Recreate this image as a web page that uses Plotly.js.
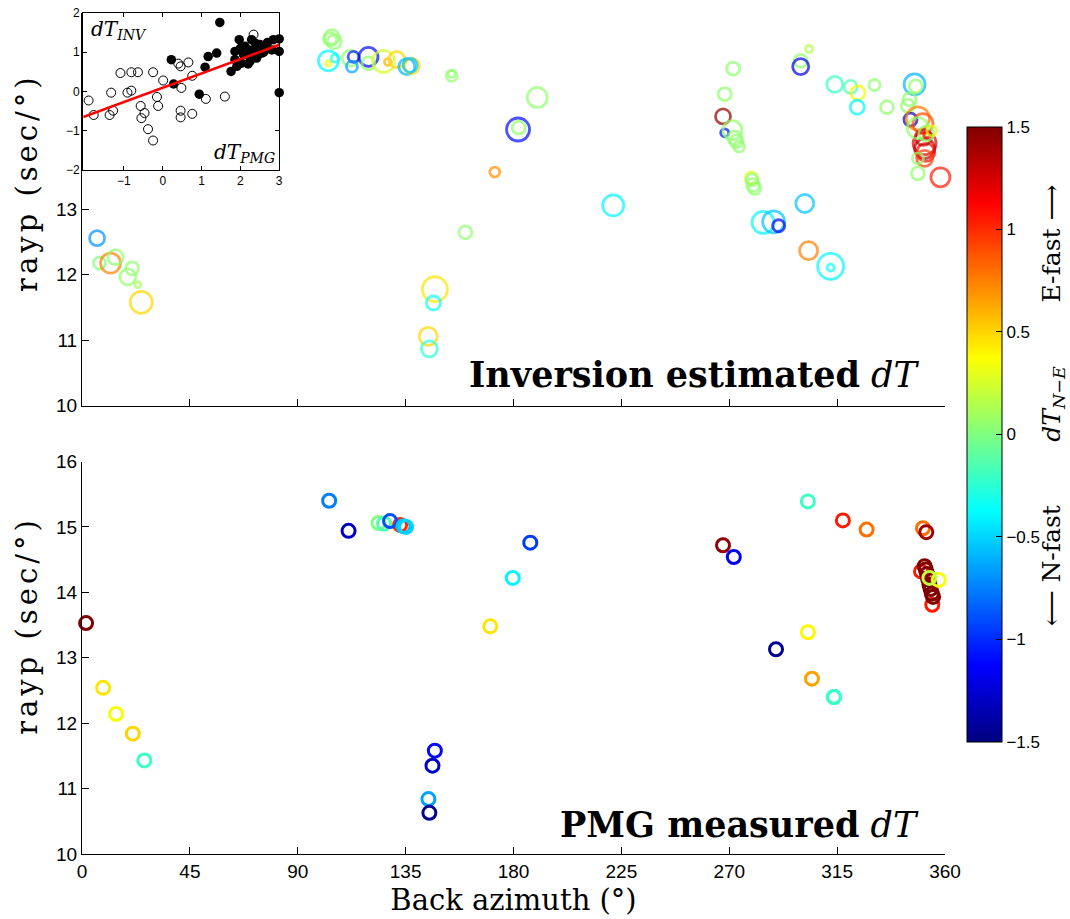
<!DOCTYPE html>
<html>
<head>
<meta charset="utf-8">
<script src="https://cdn.plot.ly/plotly-3.0.1.min.js"></script>
<style>
html,body{margin:0;padding:0;background:#fff;}
#chart{width:1070px;height:919px;}
#chart .annotation[data-index="5"] text, #chart .annotation[data-index="6"] text{letter-spacing:4px;}
</style>
</head>
<body>
<div id="chart"></div>
<script>
// ---------- Top panel: inversion estimated dT ----------
const invBaz  = [6.3,7.3,11.9,14.0,20.9,19.1,23.3,24.7,
  104.2,105.2,103.5,102.8,102.8,105.6,111.9,113.3,112.6,119.5,119.5,125.8,127.6,131.3,135.5,137.6,136.9,
  154.2,154.2,189.9,181.9,182.2,172.2,221.6,159.9,147.2,146.6,144.4,144.9,
  271.6,268.1,267.4,268.1,271.3,272.3,273.0,274.1,279.2,279.5,279.9,280.6,284.1,288.5,290.6,301.5,303.1,312.3,312.3,
  303.3,299.8,299.8,314.0,320.6,323.7,323.4,330.6,335.8,347.3,347.8,345.2,344.5,345.6,
  348.7,350.8,351.5,351.5,352.0,351.5,351.0,348.7,352.2,352.4,348.7,348.7,358.1,354.5];
const invRayp = [12.56,12.18,12.18,12.27,12.10,11.97,11.85,11.58,
  15.63,15.56,15.60,15.27,15.23,15.31,15.31,15.33,15.18,15.33,15.23,15.26,15.25,15.29,15.18,15.19,15.20,
  15.04,15.07,14.71,14.22,14.25,13.57,13.06,12.65,11.78,11.57,11.06,10.87,
  15.15,14.76,14.42,14.17,14.21,14.09,14.04,13.96,13.48,13.45,13.37,13.32,12.80,12.81,12.75,13.09,12.37,12.13,12.11,
  15.45,15.27,15.18,14.91,14.87,14.78,14.56,14.90,14.56,14.91,14.88,14.68,14.58,14.37,
  14.39,14.31,14.01,13.93,13.87,13.78,14.10,14.24,14.16,14.14,13.78,13.55,13.49,14.20];
const invDT   = [-0.7,0.0,0.75,0.05,0.05,0.05,0.1,0.5,
  0.05,0.05,0.05,-0.4,0.35,-0.3,0.05,-1.05,-0.65,-1.1,0.05,0.25,0.6,0.5,-0.6,0.5,-0.55,
  0.05,0.05,0.05,-1.1,0.05,0.7,-0.4,0.05,0.45,-0.35,0.5,-0.25,
  0.05,0.05,1.45,-1.1,0.05,0.05,0.05,0.05,0.3,0.05,0.05,0.05,-0.4,-0.55,-1.15,-0.55,0.75,-0.4,-0.35,
  0.15,0.05,-1.2,-0.2,-0.15,0.4,-0.4,0.05,0.05,-0.6,0.05,0.05,0.05,-1.3,
  0.75,0.9,1.2,1.35,1.1,0.95,1.3,0.05,0.05,1.1,0.05,0.05,1.05,0.3];
const invSize = [15,12,20,15,13,16,6,22,
  15,14,13,20,5,8,16,11,11,19,13,22,7,16,16,15,14,
  11,7,20,23,13,10,21,13,25,14,18,16,
  13,13,15,8,19,14,13,11,12,12,13,12,22,22,12,18,18,26,7,
  7,13,16,16,13,14,14,11,13,21,13,13,13,13,
  23,20,23,20,18,16,16,21,15,6,11,13,19,10];

// ---------- Bottom panel: PMG measured dT ----------
const pmgBaz  = [1.7,8.8,14.2,21.2,26.0,103.1,111.2,132.7,123.7,126.0,128.5,134.1,135.2,187.0,179.7,170.3,147.2,146.2,144.5,144.9,
  267.4,271.9,302.8,317.4,327.3,350.8,352.2,302.8,289.5,304.5,313.7,313.7,
  350.0,354.7,351.5,352.0,352.5,353.0,353.5,354.0,354.5,355.0,357.4,353.5];
const pmgRayp = [13.53,12.54,12.14,11.84,11.43,15.40,14.94,15.03,15.06,15.05,15.09,15.01,15.00,14.76,14.22,13.48,11.58,11.35,10.84,10.63,
  14.72,14.54,15.39,15.10,14.96,14.98,14.92,13.39,13.13,12.68,12.40,12.40,
  14.32,13.81,14.40,14.35,14.28,14.20,14.12,14.05,13.98,13.93,14.19,14.22];
const pmgDT   = [1.5,0.45,0.35,0.5,-0.2,-0.75,-1.3,1.0,0.0,-0.15,-0.9,-0.55,-0.5,-0.95,-0.4,0.45,-1.1,-1.25,-0.65,-1.45,
  1.45,-1.15,-0.2,1.05,0.8,0.8,1.4,0.4,-1.45,0.65,-0.4,-0.2,
  1.05,1.05,1.5,1.5,1.5,1.5,1.5,1.5,1.5,1.5,0.35,0.2];

// ---------- Inset: dT_INV vs dT_PMG ----------
const openX = [-1.91,-1.78,-1.37,-1.33,-1.28,-1.09,-0.91,-0.81,-0.81,-0.64,-0.57,-0.55,-0.47,-0.38,-0.25,-0.25,-0.15,-0.12,0.01,0.40,0.46,0.48,0.46,0.46,0.66,0.76,0.76,1.11,1.60,2.34];
const openY = [-0.23,-0.60,-0.60,-0.03,-0.49,0.47,-0.03,0.02,0.49,0.49,-0.37,-0.68,-0.55,-0.96,-1.25,0.49,-0.14,-0.37,0.28,0.71,0.64,0.09,-0.49,-0.66,0.74,0.40,-0.57,-0.19,-0.13,1.45];
const fillX = [1.47,0.22,0.28,0.94,1.09,1.17,1.39,1.76,1.97,1.86,2.03,2.21,2.38,2.25,2.55,2.81,2.85,3.0,3.0,3.0,2.12,2.42,1.91,2.08,2.64,2.29,1.86,2.15,2.35,2.50,2.00,2.20,2.60,2.70,2.45,2.30];
const fillY = [1.76,0.81,0.19,-0.07,0.62,0.89,0.98,0.51,1.32,1.02,0.72,1.06,1.23,0.77,0.98,1.06,1.32,1.34,1.02,-0.03,1.15,0.85,0.64,0.94,1.15,1.32,0.81,0.95,1.05,1.20,1.10,0.70,1.00,1.25,0.95,0.90];
const fitX = [-2.05, 3.0];
const fitY = [-0.65, 1.19];

const azTicks = [0,45,90,135,180,225,270,315,360];
const cbTicks = [-1.5,-1,-0.5,0,0.5,1,1.5];

const jet = [[0,'rgb(0,0,128)'],[0.125,'rgb(0,0,255)'],[0.375,'rgb(0,255,255)'],
             [0.625,'rgb(255,255,0)'],[0.875,'rgb(255,0,0)'],[1,'rgb(128,0,0)']];

const serif = 'DejaVu Serif, Liberation Serif, serif';
const sans = 'Liberation Sans, Arial, sans-serif';
const sp = n => '\u00a0'.repeat(n);

const traces = [
  {type:'scatter', mode:'markers', x:invBaz, y:invRayp, xaxis:'x', yaxis:'y', cliponaxis:false,
   marker:{symbol:'circle-open', size:invSize, color:invDT, coloraxis:'coloraxis', line:{width:2.8}}, hoverinfo:'skip'},
  {type:'scatter', mode:'markers', x:pmgBaz, y:pmgRayp, xaxis:'x2', yaxis:'y2', cliponaxis:false,
   marker:{symbol:'circle-open', size:13, color:pmgDT, coloraxis:'coloraxis', line:{width:3}}, hoverinfo:'skip'},
  {type:'scatter', mode:'markers', x:openX, y:openY, xaxis:'x3', yaxis:'y3', cliponaxis:false,
   marker:{symbol:'circle-open', size:9, color:'black', line:{width:1}}, hoverinfo:'skip'},
  {type:'scatter', mode:'markers', x:fillX, y:fillY, xaxis:'x3', yaxis:'y3', cliponaxis:false,
   marker:{symbol:'circle', size:9.5, color:'black'}, hoverinfo:'skip'},
  {type:'scatter', mode:'lines', x:fitX, y:fitY, xaxis:'x3', yaxis:'y3',
   line:{color:'rgb(255,0,0)', width:2.5}, hoverinfo:'skip'}
];

const baseAx = {showline:true, linecolor:'black', linewidth:1, ticks:'inside', tickcolor:'black',
  showgrid:false, zeroline:false, tickfont:{family:sans, size:19, color:'black'}};

const layout = {
  width:1070, height:919, showlegend:false,
  paper_bgcolor:'white', plot_bgcolor:'white',
  margin:{l:82, r:125, t:13, b:65, autoexpand:false},
  xaxis: Object.assign({}, baseAx, {domain:[0,1], anchor:'y', range:[0,360], tickvals:azTicks, showticklabels:false, ticklen:7}),
  yaxis: Object.assign({}, baseAx, {domain:[0.533,1], anchor:'x', range:[10,16], tickvals:[10,11,12,13], ticklen:7}),
  xaxis2: Object.assign({}, baseAx, {domain:[0,1], anchor:'y2', range:[0,360], tickvals:azTicks, ticklen:7,
    title:{text:'Back azimuth (°)', font:{family:serif, size:29, color:'black'}, standoff:8}}),
  yaxis2: Object.assign({}, baseAx, {domain:[0,0.4667], anchor:'x2', range:[10,16], tickvals:[10,11,12,13,14,15,16], ticklen:7}),
  xaxis3: Object.assign({}, baseAx, {domain:[0.0014,0.2285], anchor:'y3', range:[-2.05,3.0], tickvals:[-1,0,1,2,3],
    ticklen:4, mirror:'ticks', tickfont:{family:sans, size:12, color:'black'}}),
  yaxis3: Object.assign({}, baseAx, {domain:[0.8134,1], anchor:'x3', range:[-2,2], tickvals:[-2,-1,0,1,2],
    ticklen:4, mirror:'ticks', tickfont:{family:sans, size:12, color:'black'}}),
  coloraxis:{cmin:-1.5, cmax:1.5, colorscale:jet,
    colorbar:{x:1.0255, xanchor:'left', y:0.499, yanchor:'middle', len:0.731, lenmode:'fraction',
      thickness:35, thicknessmode:'pixels', outlinewidth:1, outlinecolor:'black', xpad:0, ypad:0,
      tickmode:'array', tickvals:cbTicks, ticks:'inside', ticklen:6, tickcolor:'black',
      tickfont:{family:sans, size:17, color:'black'}}},
  annotations:[
    {xref:'x domain', yref:'y domain', x:0.972, y:0.08, xanchor:'right', yanchor:'middle', showarrow:false,
     text:'<b>Inversion estimated</b> <i>dT</i>', font:{family:serif, size:35, color:'black'}},
    {xref:'x2 domain', yref:'y2 domain', x:0.972, y:0.075, xanchor:'right', yanchor:'middle', showarrow:false,
     text:'<b>PMG measured</b> <i>dT</i>', font:{family:serif, size:35, color:'black'}},
    {xref:'x3 domain', yref:'y3 domain', x:0.03, y:0.99, xanchor:'left', yanchor:'top', showarrow:false,
     text:'<i>dT</i><sub><i>INV</i></sub>', font:{family:serif, size:20, color:'black'}},
    {xref:'x3 domain', yref:'y3 domain', x:0.99, y:0.01, xanchor:'right', yanchor:'bottom', showarrow:false,
     text:'<i>dT</i><sub><i>PMG</i></sub>', font:{family:serif, size:20, color:'black'}},
    {xref:'paper', yref:'paper', x:1.1245, y:0.534, xanchor:'center', yanchor:'middle', showarrow:false, textangle:-90,
     text:'⟵ N-fast'+sp(8)+'<i>dT</i><sub><i>N−E</i></sub>'+sp(8)+'E-fast ⟶', font:{family:serif, size:25, color:'black'}},
    {xref:'paper', yref:'paper', x:-0.0637, y:0.798, xanchor:'center', yanchor:'middle', showarrow:false, textangle:-90,
     text:'rayp (sec/°)', font:{family:serif, size:29, color:'black'}},
    {xref:'paper', yref:'paper', x:-0.0637, y:0.2714, xanchor:'center', yanchor:'middle', showarrow:false, textangle:-90,
     text:'rayp (sec/°)', font:{family:serif, size:29, color:'black'}}
  ]
};

Plotly.newPlot('chart', traces, layout, {staticPlot:true, displayModeBar:false});
</script>
</body>
</html>
